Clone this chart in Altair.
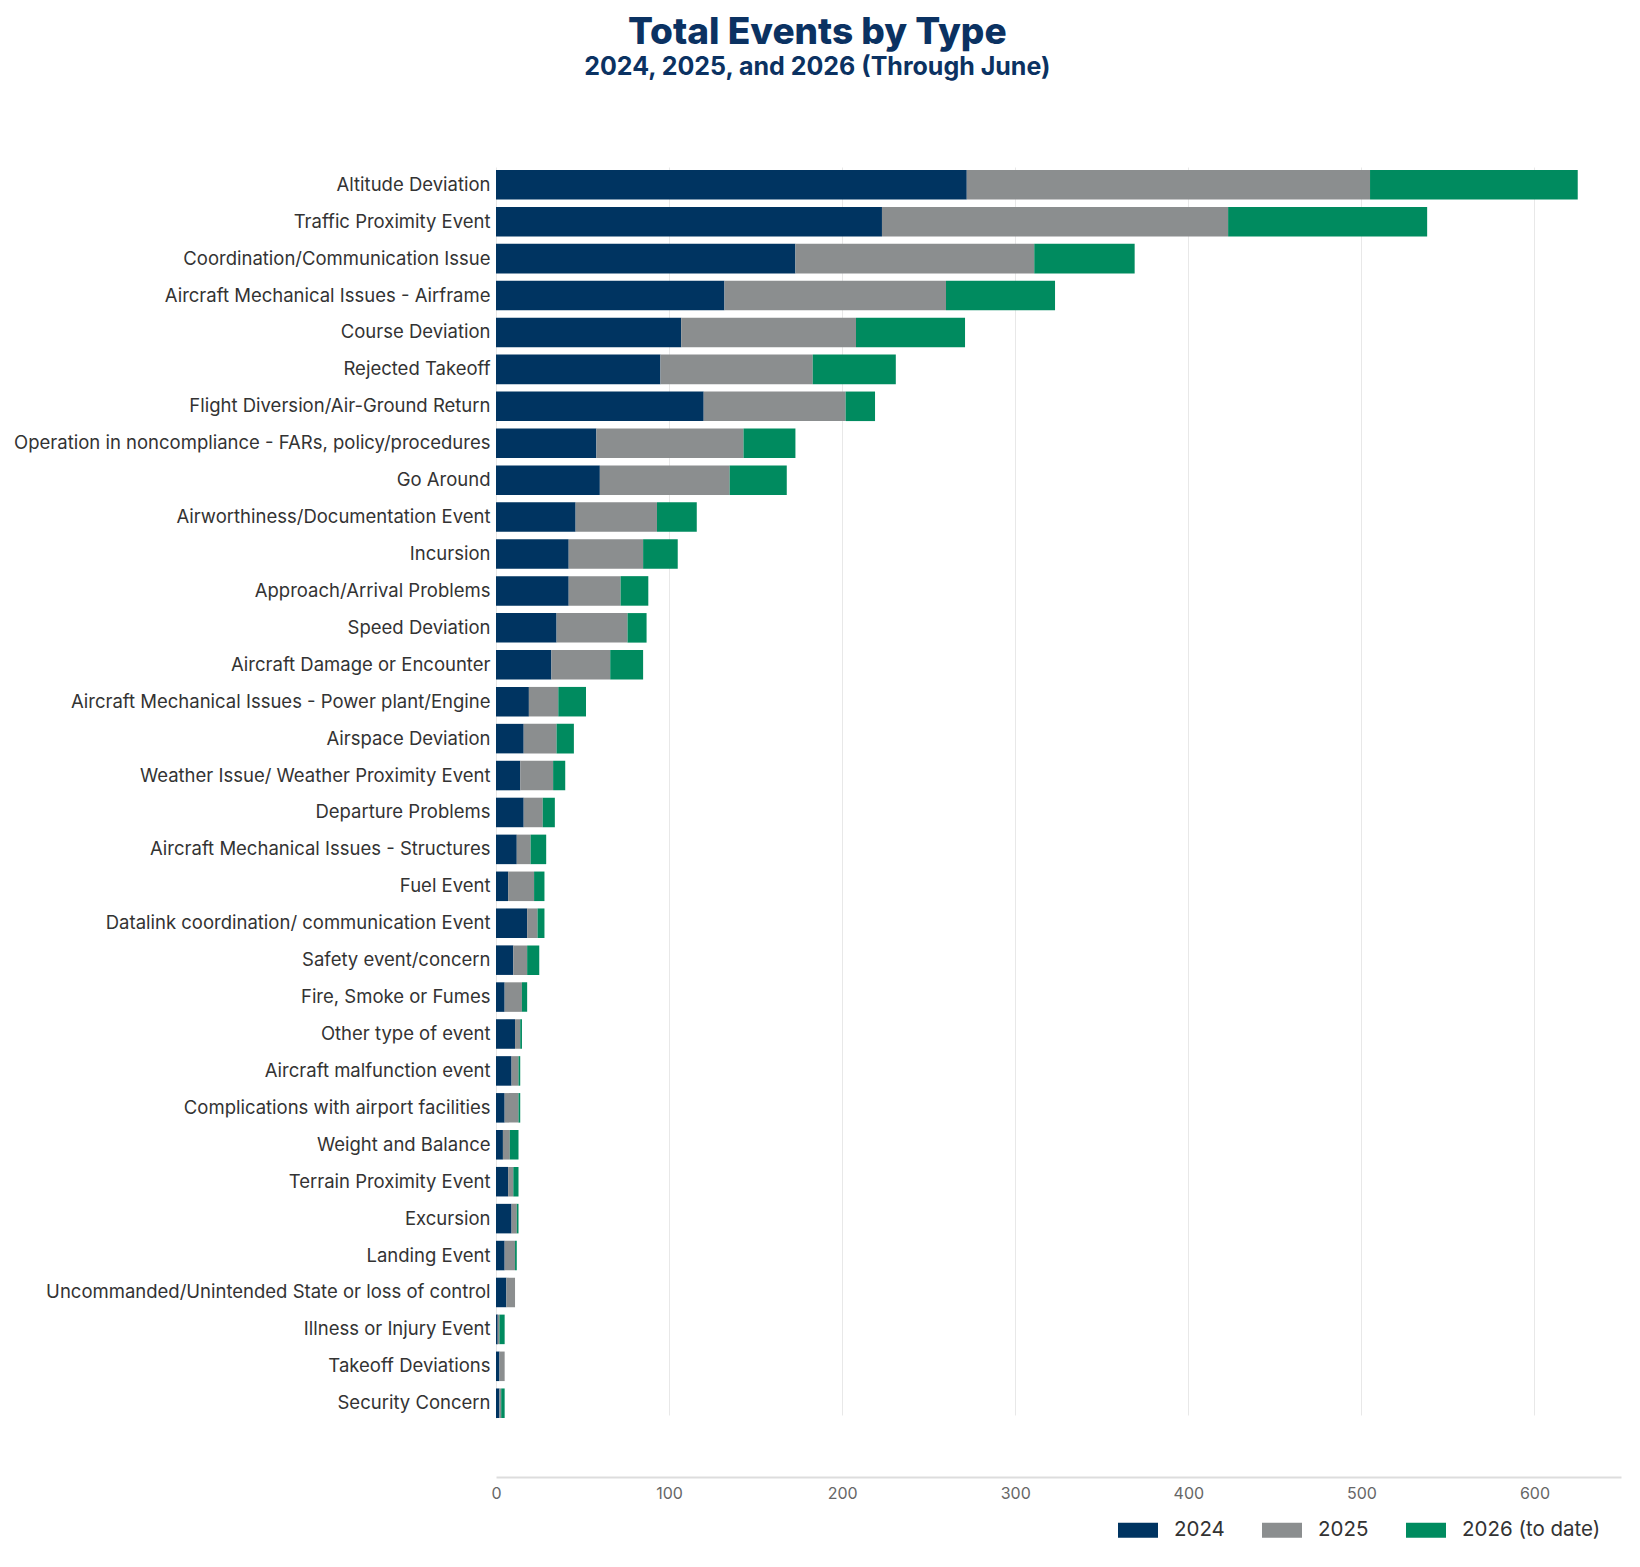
import altair as alt
import pandas as pd

categories = [
    "Altitude Deviation",
    "Traffic Proximity Event",
    "Coordination/Communication Issue",
    "Aircraft Mechanical Issues - Airframe",
    "Course Deviation",
    "Rejected Takeoff",
    "Flight Diversion/Air-Ground Return",
    "Operation in noncompliance - FARs, policy/procedures",
    "Go Around",
    "Airworthiness/Documentation Event",
    "Incursion",
    "Approach/Arrival Problems",
    "Speed Deviation",
    "Aircraft Damage or Encounter",
    "Aircraft Mechanical Issues - Power plant/Engine",
    "Airspace Deviation",
    "Weather Issue/ Weather Proximity Event",
    "Departure Problems",
    "Aircraft Mechanical Issues - Structures",
    "Fuel Event",
    "Datalink coordination/ communication Event",
    "Safety event/concern",
    "Fire, Smoke or Fumes",
    "Other type of event",
    "Aircraft malfunction event",
    "Complications with airport facilities",
    "Weight and Balance",
    "Terrain Proximity Event",
    "Excursion",
    "Landing Event",
    "Uncommanded/Unintended State or loss of control",
    "Illness or Injury Event",
    "Takeoff Deviations",
    "Security Concern",
]

v2024 = [272, 223, 173, 132, 107, 95, 120, 58, 60, 46, 42, 42, 35, 32, 19, 16, 14, 16,
         12, 7, 18, 10, 5, 11, 9, 5, 4, 7, 9, 5, 6, 1, 2, 2]
v2025 = [233, 200, 138, 128, 101, 88, 82, 85, 75, 47, 43, 30, 41, 34, 17, 19, 19, 11,
         8, 15, 6, 8, 10, 3, 4, 8, 4, 3, 3, 6, 5, 1, 3, 1]
v2026 = [120, 115, 58, 63, 63, 48, 17, 30, 33, 23, 20, 16, 11, 19, 16, 10, 7, 7,
         9, 6, 4, 7, 3, 1, 1, 1, 5, 3, 1, 1, 0, 3, 0, 2]

series = ["2024", "2025", "2026 (to date)"]
colors = ["#003461", "#8b8e8f", "#008b5f"]

rows = []
for i, c in enumerate(categories):
    for k, (s, vals) in enumerate(zip(series, [v2024, v2025, v2026])):
        rows.append({"Type": c, "Year": s, "Events": vals[i], "ord": k})
df = pd.DataFrame(rows)

FONT = "Inter"

chart = (
    alt.Chart(df)
    .mark_bar()
    .encode(
        y=alt.Y(
            "Type:N",
            sort=categories,
            title=None,
            scale=alt.Scale(paddingInner=0.2, paddingOuter=0, range=[62, 1310]),
            axis=alt.Axis(
                ticks=False,
                domain=True,
                domainColor="#e6e6e6",
                labelFont=FONT,
                labelFontSize=18.5,
                labelColor="#333333",
                labelPadding=6,
                labelLimit=600,
                grid=False,
            ),
        ),
        x=alt.X(
            "sum(Events):Q",
            title=None,
            stack="zero",
            scale=alt.Scale(domain=[0, 650], nice=False),
            axis=alt.Axis(
                values=[0, 100, 200, 300, 400, 500, 600],
                ticks=False,
                labelFlush=False,
                domainColor="#dddddd",
                domainWidth=2,
                gridColor="#e8e8e8",
                labelFont=FONT,
                labelFontSize=16,
                labelColor="#666666",
                labelPadding=8,
            ),
        ),
        color=alt.Color(
            "Year:N",
            scale=alt.Scale(domain=series, range=colors),
            legend=alt.Legend(
                title=None,
                orient="none",
                direction="horizontal",
                legendX=622,
                legendY=1402,
                symbolType="M-1,-0.38H1V0.38H-1Z",
                symbolSize=1600,
                symbolStrokeWidth=0,
                symbolOpacity=1,
                labelFont=FONT,
                labelFontSize=20.5,
                labelColor="#333333",
                labelOffset=16,
                columnPadding=37,
                labelLimit=300,
            ),
        ),
        order=alt.Order("ord:Q", sort="ascending"),
    )
    .properties(
        width=1125,
        height=1369,
        autosize=alt.AutoSizeParams(type="none"),
        padding={"left": 488, "top": 100, "right": 10, "bottom": 80},
        title=alt.TitleParams(
            text="Total Events by Type",
            subtitle="2024, 2025, and 2026 (Through June)",
            font=FONT,
            fontSize=37,
            fontWeight=800,
            color="#0b3262",
            subtitleFont=FONT,
            subtitleFontSize=25,
            subtitleFontWeight="bold",
            subtitleColor="#0b3262",
            subtitlePadding=3,
            anchor="middle",
            frame="bounds",
            offset=27,
        ),
    )
    .configure_view(stroke=None)
)

chart.save("out.html", embed_options={"renderer": "svg", "actions": False})
